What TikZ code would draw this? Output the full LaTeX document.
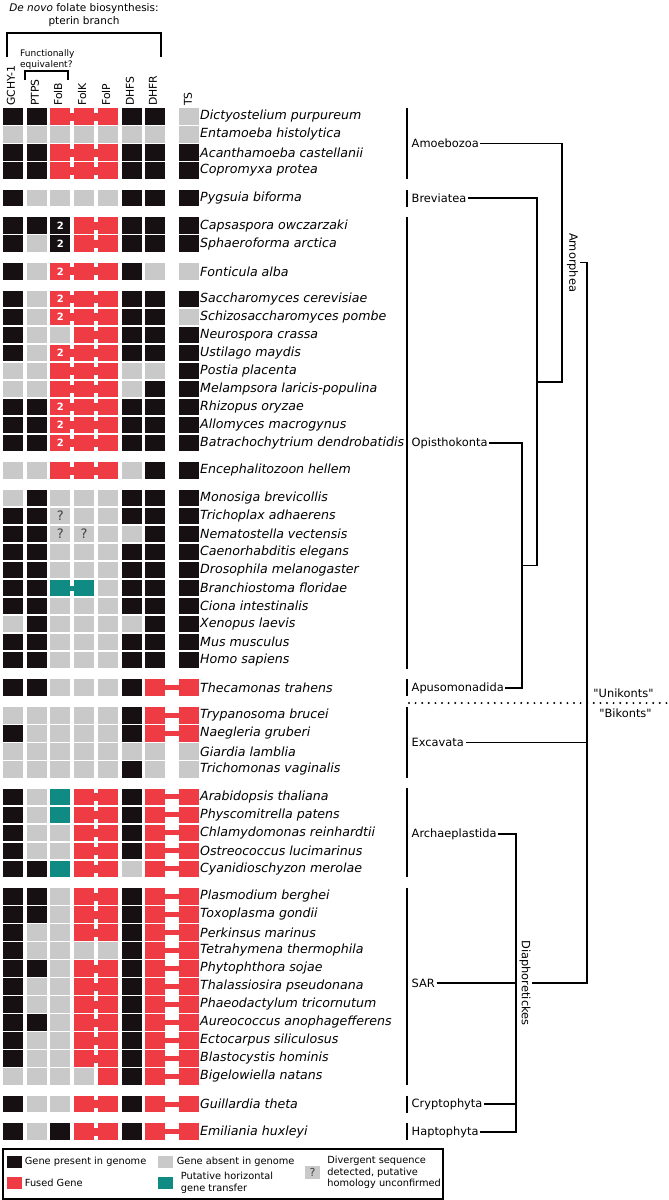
\documentclass[tikz,border=0pt]{standalone}
\usepackage{fontspec}
\setmainfont{DejaVu Sans}
\usepackage{xcolor}
\usepackage{tikz}
\usetikzlibrary{positioning, calc}
\definecolor{cK}{HTML}{171012}
\definecolor{cG}{HTML}{C9C9C9}
\definecolor{cR}{HTML}{EE3B44}
\definecolor{cT}{HTML}{0F8B84}
\tikzstyle{cell} = [rectangle, inner sep=0pt, minimum width=20pt, minimum height=16.5pt]
\tikzstyle{species} = [anchor=west, inner sep=1pt, font=\fontsize{12.6}{14}\selectfont\itshape]
\tikzstyle{clade} = [anchor=west, inner sep=1.5pt, font=\fontsize{11.4}{13}\selectfont]
\tikzstyle{sideclade} = [rotate=-90, inner sep=1.5pt, font=\fontsize{11.4}{13}\selectfont]
\tikzstyle{gene} = [rotate=90, anchor=west, inner sep=1pt, font=\fontsize{10.8}{12}\selectfont]
\tikzstyle{two} = [text=white, inner sep=0pt, font=\fontsize{10}{11}\selectfont\bfseries]
\tikzstyle{query} = [text=black!75, inner sep=0pt, font=\fontsize{13}{14}\selectfont]
\tikzstyle{bar} = [line width=2pt]
\tikzstyle{tree} = [line width=1.4pt]
\tikzstyle{bracket} = [line width=1.4pt]
\tikzstyle{divider} = [line width=2.2pt, line cap=round, dash pattern=on 0pt off 6.6pt]
\tikzstyle{legkey} = [rectangle, inner sep=0pt, minimum width=15pt, minimum height=12.5pt]
\tikzstyle{legtext} = [inner sep=0pt, align=left, font=\fontsize{9.8}{11.5}\selectfont]

\begin{document}
\begin{tikzpicture}[x=1pt, y=-1pt]
    \useasboundingbox (0,0) rectangle (669,1200);

    % header
    \node (title) [align=center, font=\fontsize{10.5}{13.5}\selectfont] at (84,15) {\textit{De novo} folate biosynthesis:\\pterin branch};
    \draw [bracket] (7,57) |- (161,33) -- (161,57);
    \node (funceq) [anchor=west, align=left, inner sep=0pt, font=\fontsize{9}{11}\selectfont] at (20,59.5) {Functionally\\equivalent?};
    \draw [bracket] (25,80) |- (68,71) -- (68,80);
    \foreach \gname/\x in {GCHY-1/11, PTPS/35, FolB/58, FolK/82, FolP/106, DHFS/130, DHFR/153, TS/188}
        \node (g-\gname) [gene] at (\x,107) {\gname};

    % gene table
    \foreach \r/\g/\cells/\spname in {
        1/0/{K,K,R,R,R,K,K,G}/Dictyostelium purpureum,
        2/0/{G,G,G,G,G,G,G,G}/Entamoeba histolytica,
        3/0/{K,K,R,R,R,K,K,K}/Acanthamoeba castellanii,
        4/0/{K,K,R,R,R,K,K,K}/Copromyxa protea,
        5/1/{K,G,G,G,G,K,K,K}/Pygsuia biforma,
        6/2/{K,K,K,R,R,K,K,K}/Capsaspora owczarzaki,
        7/2/{K,G,K,R,R,K,K,K}/Sphaeroforma arctica,
        8/3/{K,G,R,R,R,K,G,G}/Fonticula alba,
        9/4/{K,G,R,R,R,K,K,K}/Saccharomyces cerevisiae,
        10/4/{K,G,R,R,R,K,K,G}/Schizosaccharomyces pombe,
        11/4/{K,G,G,R,R,K,K,K}/Neurospora crassa,
        12/4/{K,G,R,R,R,K,K,K}/Ustilago maydis,
        13/4/{G,G,R,R,R,G,G,K}/Postia placenta,
        14/4/{G,G,R,R,R,G,K,K}/Melampsora laricis-populina,
        15/4/{K,K,R,R,R,K,K,K}/Rhizopus oryzae,
        16/4/{K,K,R,R,R,K,K,K}/Allomyces macrogynus,
        17/4/{K,K,R,R,R,K,K,K}/Batrachochytrium dendrobatidis,
        18/5/{G,G,R,R,R,G,K,K}/Encephalitozoon hellem,
        19/6/{G,K,G,G,G,K,K,K}/Monosiga brevicollis,
        20/6/{K,K,G,G,G,K,K,K}/Trichoplax adhaerens,
        21/6/{K,K,G,G,G,G,K,K}/Nematostella vectensis,
        22/6/{K,K,G,G,G,K,K,K}/Caenorhabditis elegans,
        23/6/{K,K,G,G,G,K,K,K}/Drosophila melanogaster,
        24/6/{K,K,T,T,G,K,K,K}/Branchiostoma floridae,
        25/6/{K,K,G,G,G,K,K,K}/Ciona intestinalis,
        26/6/{G,K,G,G,G,G,K,K}/Xenopus laevis,
        27/6/{K,K,G,G,G,K,K,K}/Mus musculus,
        28/6/{K,K,G,G,G,K,K,K}/Homo sapiens,
        29/7/{K,K,G,G,G,K,R,R}/Thecamonas trahens,
        30/8/{G,G,G,G,G,K,R,R}/Trypanosoma brucei,
        31/8/{K,G,G,G,G,K,R,R}/Naegleria gruberi,
        32/8/{G,G,G,G,G,G,G,G}/Giardia lamblia,
        33/8/{G,G,G,G,G,K,G,G}/Trichomonas vaginalis,
        34/9/{K,G,T,R,R,K,R,R}/Arabidopsis thaliana,
        35/9/{K,G,T,R,R,K,R,R}/Physcomitrella patens,
        36/9/{K,G,G,R,R,K,R,R}/Chlamydomonas reinhardtii,
        37/9/{K,G,G,R,R,K,R,R}/Ostreococcus lucimarinus,
        38/9/{K,K,T,R,R,G,R,R}/Cyanidioschyzon merolae,
        39/10/{K,K,G,R,R,K,R,R}/Plasmodium berghei,
        40/10/{K,K,G,R,R,K,R,R}/Toxoplasma gondii,
        41/10/{K,G,G,R,R,K,R,R}/Perkinsus marinus,
        42/10/{K,G,G,G,G,K,R,R}/Tetrahymena thermophila,
        43/10/{K,K,G,R,R,K,R,R}/Phytophthora sojae,
        44/10/{K,G,G,R,R,K,R,R}/Thalassiosira pseudonana,
        45/10/{K,G,G,R,R,K,R,R}/Phaeodactylum tricornutum,
        46/10/{K,K,G,R,R,K,R,R}/Aureococcus anophagefferens,
        47/10/{K,G,G,R,R,K,R,R}/Ectocarpus siliculosus,
        48/10/{K,G,G,R,R,K,R,R}/Blastocystis hominis,
        49/10/{G,G,G,G,R,K,R,R}/Bigelowiella natans,
        50/11/{K,G,G,R,R,K,R,R}/Guillardia theta,
        51/12/{K,G,K,R,R,K,R,R}/Emiliania huxleyi} {
        \pgfmathsetmacro\y{116.5+18*(\r-1)+9.6*\g}
        \foreach \code [count=\i] in \cells {
            \pgfmathsetmacro\x{ifthenelse(\i==8,189,13+23.7*(\i-1))}
            \node (c\r-\i) [cell, fill=c\code] at (\x,\y) {};
        }
        \node (sp\r) [species] at (199,\y) {\spname};
    }

    % fusions
    \foreach \r in {1,3,4,8,9,10,12,13,14,15,16,17,18}
        \fill [cR] ($(c\r-3.east)+(-1,-4)$) rectangle ($(c\r-4.west)+(1,4)$);
    \foreach \r in {1,3,4,6,7,8,9,10,11,12,13,14,15,16,17,18,34,35,36,37,38,39,40,41,43,44,45,46,47,48,50,51}
        \fill [cR] ($(c\r-4.east)+(-1,-4)$) rectangle ($(c\r-5.west)+(1,4)$);
    \fill [cT] ($(c24-3.east)+(-1,-2.5)$) rectangle ($(c24-4.west)+(1,2.5)$);
    \foreach \r in {29,30,31,34,35,36,37,38,39,40,41,42,43,44,45,46,47,48,49,50,51}
        \fill [cR] ($(c\r-7.east)+(-1,-2.5)$) rectangle ($(c\r-8.west)+(1,2.5)$);

    \foreach \r in {6,7,8,9,10,12,15,16,17}
        \node (two\r) [two] at (c\r-3) {2};
    \node (q20) [query] at (c20-3) {?};
    \node (q21a) [query] at (c21-3) {?};
    \node (q21b) [query] at (c21-4) {?};

    % clades
    \coordinate (barx) at (407,0);
    \foreach \a/\b in {1/4, 5/5, 6/28, 29/29, 30/33, 34/38, 39/49, 50/50, 51/51}
        \draw [bar] (c\a-8.north -| barx) -- (c\b-8.south -| barx);

    \node (amoebozoa) [clade] at (410,143.5) {Amoebozoa};
    \node (breviatea) [clade] at (410,198) {Breviatea};
    \node (opisthokonta) [clade] at (410,443) {Opisthokonta};
    \node (apusomonadida) [clade] at (410,688) {Apusomonadida};
    \node (excavata) [clade] at (410,742.5) {Excavata};
    \node (archaeplastida) [clade] at (410,834) {Archaeplastida};
    \node (sar) [clade] at (410,983) {SAR};
    \node (cryptophyta) [clade] at (410,1104) {Cryptophyta};
    \node (haptophyta) [clade] at (410,1132) {Haptophyta};

    \coordinate (n1) at (522,565.5);
    \coordinate (n2) at (537,382);
    \coordinate (n3) at (562,262.7);
    \coordinate (n4) at (587,262.7);
    \coordinate (n5) at (516,983);
    \coordinate (n6) at (587,983);
    \node (amorphea) [sideclade] at (572.5,262.7) {Amorphea};
    \node (diaphoretickes) [sideclade] at (525,983) {Diaphoretickes};

    \draw [tree] (opisthokonta.east) -| (n1) |- (apusomonadida.east);
    \draw [tree] (breviatea.east) -| (n2) |- (n1);
    \draw [tree] (amoebozoa.east) -| (n3) |- (n2);
    \draw [tree] (amorphea) -- (n4) -- (n6) -- (diaphoretickes);
    \draw [tree] (excavata.east) -- (excavata.east -| n4);
    \draw [tree] (archaeplastida.east) -| (n5) |- (haptophyta.east);
    \draw [tree] (sar.east) -- (n5);
    \draw [tree] (cryptophyta.east) -- (cryptophyta.east -| n5);

    \coordinate (divl) at (409,703);
    \coordinate (divr) at (669,703);
    \draw [divider] (divl) -- (divr);
    \node (unikonts) [clade, anchor=center] at (623.5,693) {\textquotedbl Unikonts\textquotedbl};
    \node (bikonts) [clade, anchor=center] at (625.5,713) {\textquotedbl Bikonts\textquotedbl};

    % legend
    \draw [line width=1.5pt] (3,1149) rectangle (443,1199);
    \node (kpresent) [legkey, fill=cK] at (14,1162) {};
    \node (tpresent) [legtext, right=3pt of kpresent] {Gene present in genome};
    \node (kfused) [legkey, fill=cR] at (14,1183) {};
    \node (tfused) [legtext, right=3pt of kfused] {Fused Gene};
    \node (kabsent) [legkey, fill=cG] at (165,1162) {};
    \node (tabsent) [legtext, right=4pt of kabsent] {Gene absent in genome};
    \node (khgt) [legkey, fill=cT] at (165,1183) {};
    \node (thgt) [legtext, right=8pt of khgt] {Putative horizontal\\gene transfer};
    \node (kquery) [legkey, fill=cG, minimum height=13pt, text=black!75, font=\fontsize{11}{12}\selectfont] at (312.5,1172.5) {?};
    \node (tquery) [legtext, right=7pt of kquery] {Divergent sequence\\detected, putative\\homology unconfirmed};
\end{tikzpicture}
\end{document}
